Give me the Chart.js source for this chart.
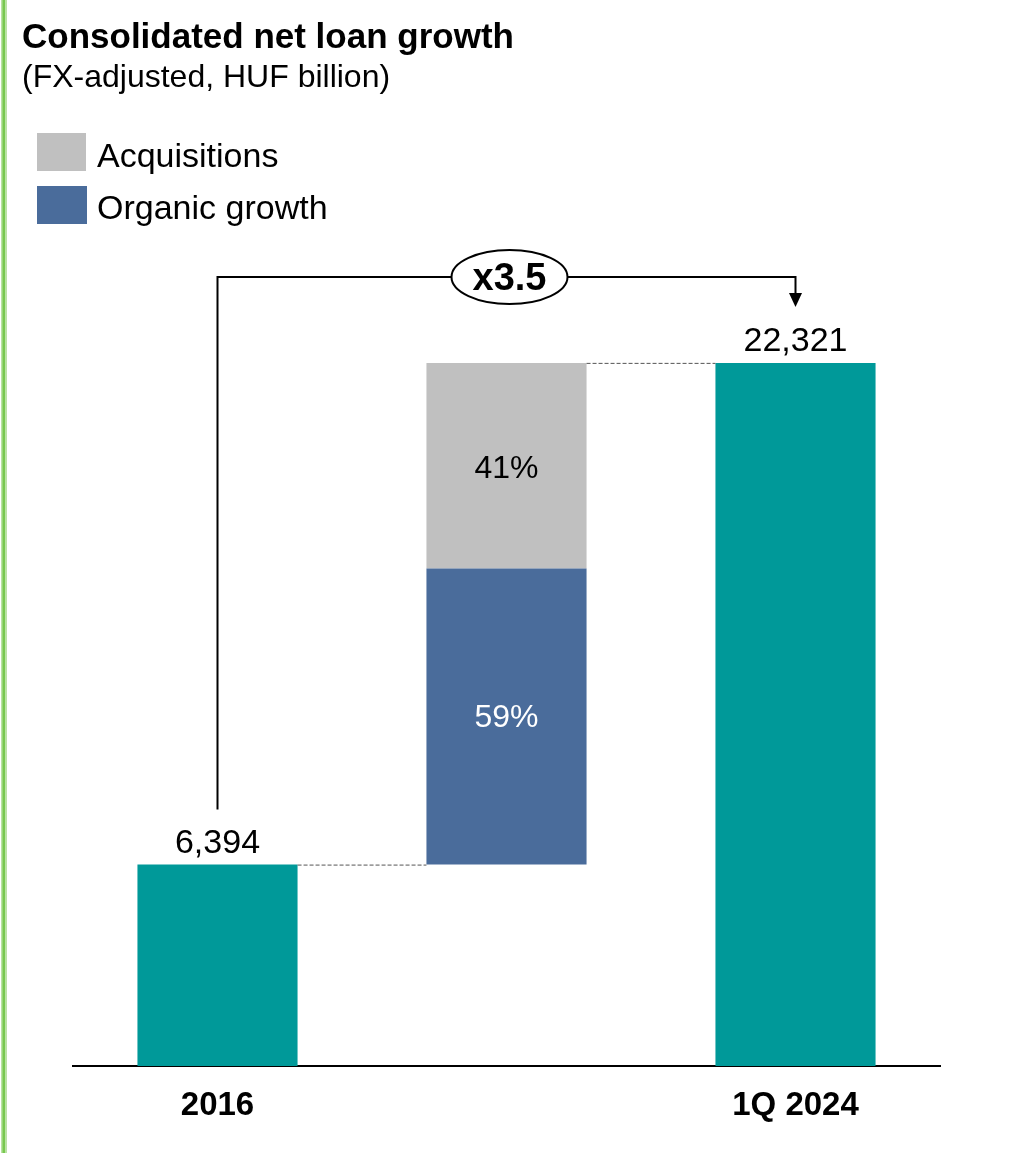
<!DOCTYPE html>
<html><head><meta charset="utf-8">
<script src="https://cdn.jsdelivr.net/npm/chart.js@4.4.1/dist/chart.umd.min.js"></script>
<style>html,body{margin:0;padding:0;background:#fff}canvas{display:block}</style>
</head><body>
<canvas id="c" width="1009" height="1153"></canvas>
<script>
// ---- data ----
const categories = ['2016', '', '1Q 2024'];
const totalValues = [6394, null, 22321];
const sharePct = { organic: 59, acquisitions: 41 };
const legendLabels = ['Acquisitions', 'Organic growth'];
const titleText = 'Consolidated net loan growth';
const subtitleText = '(FX-adjusted, HUF billion)';
const multiplierText = 'x3.5';

// derived bridge segments for the middle column
const startVal = totalValues[0];
const endVal = totalValues[2];
const organicTop = startVal + (endVal - startVal) * sharePct.organic / 100;
const organicData = [null, [startVal, organicTop], null];
const acquisitionsData = [null, [organicTop, endVal], null];

const TEAL = '#009999', GREY = '#C0C0C0', BLUE = '#4A6C9B';
const FONT = '"Liberation Sans", Arial, sans-serif';

const overlay = {
  id: 'overlay',
  beforeDraw(chart) {
    const ctx = chart.ctx;
    ctx.save();
    ctx.fillStyle = '#fff';
    ctx.fillRect(0, 0, chart.width, chart.height);
    ctx.restore();
  },
  afterDraw(chart) {
    const ctx = chart.ctx;
    const y = chart.scales.y;
    const mTot = chart.getDatasetMeta(0).data;
    const mOrg = chart.getDatasetMeta(1).data;
    const mAcq = chart.getDatasetMeta(2).data;
    ctx.save();
    // green page rule
    ctx.fillStyle = '#b9e3a3'; ctx.fillRect(1, 0, 6, chart.height);
    ctx.fillStyle = '#78c84f'; ctx.fillRect(2.5, 0, 2.5, chart.height);

    // title & subtitle
    ctx.fillStyle = '#000';
    ctx.textAlign = 'left'; ctx.textBaseline = 'alphabetic';
    ctx.font = 'bold 35px ' + FONT;
    ctx.fillText(titleText, 22, 48);
    ctx.font = '32px ' + FONT;
    ctx.fillText(subtitleText, 22, 87);

    // legend
    ctx.fillStyle = GREY; ctx.fillRect(37, 133, 49, 38);
    ctx.fillStyle = BLUE; ctx.fillRect(37, 186, 50, 38);
    ctx.fillStyle = '#000';
    ctx.font = '34px ' + FONT;
    ctx.fillText(legendLabels[0], 97, 167);
    ctx.fillText(legendLabels[1], 97, 219);

    // connectors
    ctx.strokeStyle = '#555'; ctx.lineWidth = 1; ctx.setLineDash([4, 2]);
    const b0 = mTot[0], b2 = mTot[2], bo = mOrg[1], ba = mAcq[1];
    const y0 = y.getPixelForValue(startVal) + 0.5;
    const y2 = y.getPixelForValue(endVal) + 0.5;
    ctx.beginPath();
    ctx.moveTo(b0.x + b0.width / 2, y0); ctx.lineTo(bo.x - bo.width / 2, y0);
    ctx.moveTo(ba.x + ba.width / 2, y2); ctx.lineTo(b2.x - b2.width / 2, y2);
    ctx.stroke();
    ctx.setLineDash([]);

    // value labels
    ctx.fillStyle = '#000';
    ctx.font = '34px ' + FONT;
    ctx.textAlign = 'center';
    ctx.fillText(startVal.toLocaleString('en-US'), b0.x, y.getPixelForValue(startVal) - 12);
    ctx.fillText(endVal.toLocaleString('en-US'), b2.x, y.getPixelForValue(endVal) - 12);

    // percent labels
    ctx.textBaseline = 'middle';
    ctx.font = '32px ' + FONT;
    ctx.fillStyle = '#000';
    ctx.fillText(sharePct.acquisitions + '%', ba.x, (y.getPixelForValue(organicTop) + y2) / 2 + 3);
    ctx.fillStyle = '#fff';
    ctx.fillText(sharePct.organic + '%', bo.x, (y.getPixelForValue(organicTop) + y0) / 2 + 1);

    // bracket
    const by = 277;
    const cx = bo.x + 3;
    ctx.strokeStyle = '#000'; ctx.lineWidth = 2;
    ctx.beginPath();
    ctx.moveTo(b0.x, y.getPixelForValue(startVal) - 55);
    ctx.lineTo(b0.x, by);
    ctx.lineTo(cx - 58, by);
    ctx.moveTo(cx + 58, by);
    ctx.lineTo(b2.x, by);
    ctx.lineTo(b2.x, 294);
    ctx.stroke();
    ctx.fillStyle = '#000';
    ctx.beginPath();
    ctx.moveTo(b2.x - 6.5, 293); ctx.lineTo(b2.x + 6.5, 293); ctx.lineTo(b2.x, 307); ctx.closePath();
    ctx.fill();
    ctx.beginPath();
    ctx.ellipse(cx, by, 58, 27, 0, 0, Math.PI * 2);
    ctx.fillStyle = '#fff'; ctx.fill();
    ctx.stroke();
    ctx.fillStyle = '#000';
    ctx.font = 'bold 38px ' + FONT;
    ctx.textBaseline = 'alphabetic';
    ctx.fillText(multiplierText, cx, by + 13);
    ctx.restore();
  }
};

new Chart(document.getElementById('c'), {
  type: 'bar',
  data: {
    labels: categories,
    datasets: [
      { label: 'Total', data: totalValues, backgroundColor: TEAL },
      { label: legendLabels[1], data: organicData, backgroundColor: BLUE },
      { label: legendLabels[0], data: acquisitionsData, backgroundColor: GREY }
    ]
  },
  options: {
    responsive: false,
    animation: false,
    devicePixelRatio: 1,
    layout: { padding: { left: 73, right: 69, top: 247, bottom: 0 } },
    datasets: { bar: { barPercentage: 0.554, categoryPercentage: 1, borderWidth: 0 } },
    plugins: { legend: { display: false }, tooltip: { enabled: false }, title: { display: false } },
    scales: {
      x: {
        stacked: true,
        grid: { display: false, drawTicks: false },
        border: { display: true, color: '#000', width: 2 },
        ticks: { color: '#000', font: { family: FONT, size: 33, weight: 'bold' }, padding: 20 },
        afterFit(scale) { scale.height = 87; }
      },
      y: { display: false, min: 0, max: 26000, stacked: false }
    }
  },
  plugins: [overlay]
});
</script>
</body></html>
